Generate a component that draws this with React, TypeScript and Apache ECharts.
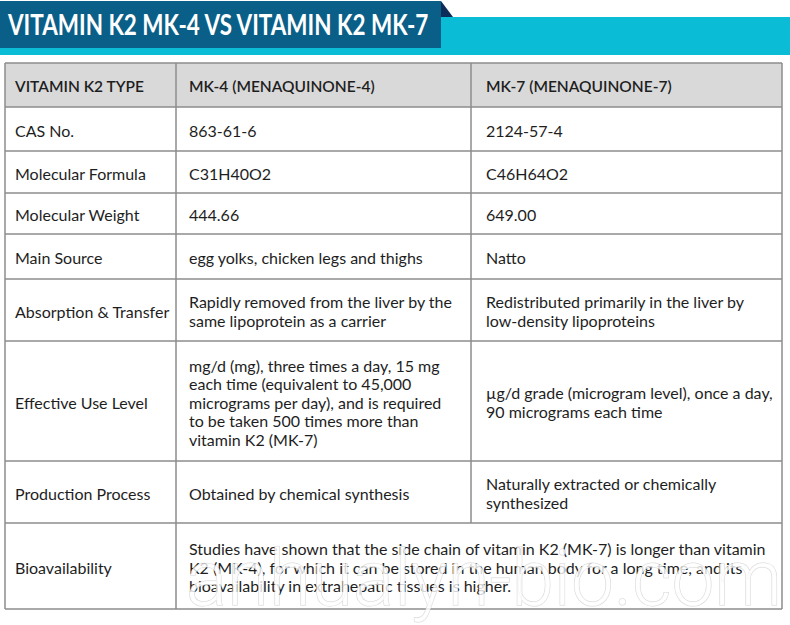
import React, { useEffect, useRef } from "react";
import * as echarts from "echarts";

const TITLE = "VITAMIN K2 MK-4 VS VITAMIN K2 MK-7";
const HEADERS = ["VITAMIN K2 TYPE", "MK-4 (MENAQUINONE-4)", "MK-7 (MENAQUINONE-7)"];
const ROW_LABELS = [
  "CAS No.",
  "Molecular Formula",
  "Molecular Weight",
  "Main Source",
  "Absorption & Transfer",
  "Effective Use Level",
  "Production Process",
  "Bioavailability",
];
const MK4_VALUES = [
  "863-61-6",
  "C31H40O2",
  "444.66",
  "egg yolks, chicken legs and thighs",
  "Rapidly removed from the liver by the\nsame lipoprotein as a carrier",
  "mg/d (mg), three times a day, 15 mg\neach time (equivalent to 45,000\nmicrograms per day), and is required\nto be taken 500 times more than\nvitamin K2 (MK-7)",
  "Obtained by chemical synthesis",
  "Studies have shown that the side chain of vitamin K2 (MK-7) is longer than vitamin\nK2 (MK-4), for which it can be stored in the human body for a long time, and its\nbioavailability in extrahepatic tissues is higher.",
];
const MK7_VALUES = [
  "2124-57-4",
  "C46H64O2",
  "649.00",
  "Natto",
  "Redistributed primarily in the liver by\nlow-density lipoproteins",
  "µg/d grade (microgram level), once a day,\n90 micrograms each time",
  "Naturally extracted or chemically\nsynthesized",
  "",
];
const WATERMARK = "anhualyn-bio.com";

// layout
const ROW_Y = [63, 107, 151, 193, 234, 279, 341, 461, 523, 609];
const COL_X = [5, 176, 471, 782];
const PAD = [10, 13, 15];
const FONT_FAMILY = "Lato, 'Noto Sans', sans-serif";

export default function App() {
  const ref = useRef<HTMLDivElement>(null);
  useEffect(() => {
    if (!ref.current) return;
    const chart = echarts.init(ref.current, null, { renderer: "svg" });
    const els: any[] = [];
    // title bar
    els.push({ type: "rect", shape: { x: 0, y: 17, width: 790, height: 38 }, style: { fill: "#0bbcd7" } });
    els.push({ type: "rect", shape: { x: 0, y: 1, width: 441, height: 47 }, style: { fill: "#0a5f88" } });
    els.push({ type: "polygon", shape: { points: [[441, 1], [453, 17], [441, 17]] }, style: { fill: "#0c2c5a" } });
    els.push({
      type: "text",
      x: 8,
      y: 24,
      scaleX: 0.775,
      style: { text: TITLE, font: `bold 29px ${FONT_FAMILY}`, fill: "#ffffff", verticalAlign: "middle", align: "left" },
    });
    // header background
    els.push({ type: "rect", shape: { x: COL_X[0], y: ROW_Y[0], width: COL_X[3] - COL_X[0], height: ROW_Y[1] - ROW_Y[0] }, style: { fill: "#d9d9d9" } });
    const lineStyle = { stroke: "#8c8c8c", lineWidth: 1.5 };
    ROW_Y.forEach((y) => {
      els.push({ type: "line", shape: { x1: COL_X[0], y1: y, x2: COL_X[3], y2: y }, style: lineStyle });
    });
    els.push({ type: "line", shape: { x1: COL_X[0], y1: ROW_Y[0], x2: COL_X[0], y2: ROW_Y[9] }, style: lineStyle });
    els.push({ type: "line", shape: { x1: COL_X[1], y1: ROW_Y[0], x2: COL_X[1], y2: ROW_Y[9] }, style: lineStyle });
    els.push({ type: "line", shape: { x1: COL_X[2], y1: ROW_Y[0], x2: COL_X[2], y2: ROW_Y[8] }, style: lineStyle });
    els.push({ type: "line", shape: { x1: COL_X[3], y1: ROW_Y[0], x2: COL_X[3], y2: ROW_Y[9] }, style: lineStyle });

    const cell = (text: string, col: number, r0: number, r1: number, bold: boolean) => {
      if (!text) return;
      els.push({
        type: "text",
        x: COL_X[col] + PAD[col],
        y: (ROW_Y[r0] + ROW_Y[r1]) / 2 + 1,
        style: {
          text,
          font: bold ? `600 15.5px ${FONT_FAMILY}` : `400 16px ${FONT_FAMILY}`,
          fill: "#1e1e1e",
          verticalAlign: "middle",
          align: "left",
          lineHeight: 18.5,
        },
      });
    };
    HEADERS.forEach((h, i) => cell(h, i, 0, 1, true));
    ROW_LABELS.forEach((l, i) => cell(l, 0, i + 1, i + 2, false));
    MK4_VALUES.forEach((v, i) => cell(v, 1, i + 1, i + 2, false));
    MK7_VALUES.forEach((v, i) => cell(v, 2, i + 1, i + 2, false));

    els.push({
      type: "text",
      x: 186,
      y: 578,
      scaleX: 0.98,
      silent: true,
      style: {
        text: WATERMARK,
        font: `300 78px Roboto, sans-serif`,
        fill: "rgba(255,255,255,0.8)",
        stroke: "rgba(185,185,185,0.6)",
        lineWidth: 1,
        lineHeight: 70,
        verticalAlign: "middle",
        align: "left",
      },
    });

    chart.setOption({ animation: false, graphic: { elements: els } });
    return () => chart.dispose();
  }, []);
  return <div ref={ref} style={{ position: "fixed", left: 0, top: 0, width: 790, height: 625, background: "#fff" }} />;
}
